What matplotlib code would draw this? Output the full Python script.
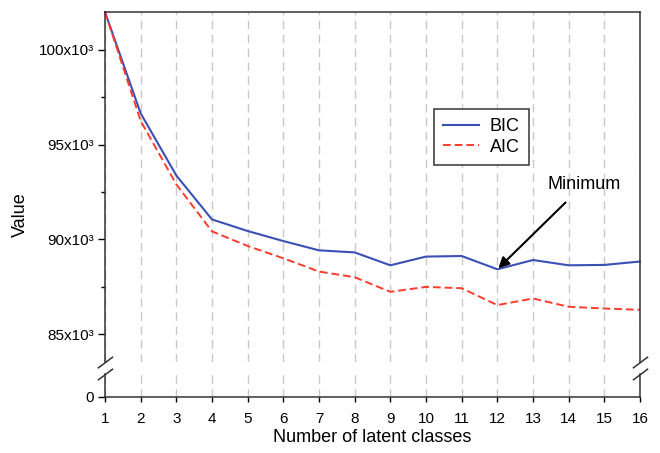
import numpy as np
import matplotlib
matplotlib.use("Agg")
from matplotlib import pyplot as plt

plt.rcParams['font.family'] = ['Liberation Sans', 'DejaVu Sans']

classes = list(range(1, 17))
bic = [102000, 96650, 93370, 91050, 90440, 89910, 89420, 89310,
       88630, 89090, 89120, 88420, 88910, 88630, 88650, 88830]
aic = [102000, 96250, 92900, 90420, 89650, 89000, 88300, 88000,
       87230, 87490, 87420, 86530, 86880, 86440, 86350, 86280]
ytick_vals = [85000, 90000, 95000, 100000]
ytick_labels = ['85x10³', '90x10³', '95x10³', '100x10³']

fig = plt.figure(figsize=(6.6, 4.53), dpi=100)
# top part (broken axis) and bottom stub with the zero
ax = fig.add_axes([105/660, 1-362/453, 535/660, 350/453])
ax0 = fig.add_axes([105/660, 1-397/453, 535/660, 23/453], sharex=ax)

ax.plot(classes, bic, color='#3b50b4', lw=1.5, label='BIC', clip_on=False)
ax.plot(classes, aic, color='#ff3b2e', lw=1.4, ls=(0, (4, 2)), label='AIC', clip_on=False)

ax.set_ylim(83526, 102000)
ax.set_xlim(1, 16)
ax.set_yticks(ytick_vals)
ax.set_yticklabels(ytick_labels)
ax.set_yticks([87500, 92500, 97500], minor=True)
ax.spines['bottom'].set_visible(False)
ax.tick_params(axis='x', bottom=False, labelbottom=False)
ax.tick_params(axis='y', which='major', length=5, width=1, labelsize=11, pad=3)
ax.tick_params(axis='y', which='minor', length=3, width=1)

ax0.set_ylim(0, 1)
ax0.set_yticks([0])
ax0.set_yticklabels(['0'])
ax0.spines['top'].set_visible(False)
ax0.set_xticks(classes)
ax0.tick_params(axis='y', length=5, width=1, labelsize=11, pad=3)
ax0.tick_params(axis='x', length=3.6, width=1, labelsize=11, pad=7)

for a in (ax, ax0):
    a.grid(axis='x', color='#c8c8c8', ls=(0, (6, 4)), lw=1)
    a.set_axisbelow(True)
    for s in a.spines.values():
        s.set_color('#333333')
        s.set_linewidth(1.1)

# break marks on both side spines
kw = dict(marker=[(-1, -0.75), (1, 0.75)], markersize=11, linestyle='none',
          color='#333333', mec='#333333', mew=1.1, clip_on=False)
ax.plot([0, 1], [0, 0], transform=ax.transAxes, **kw)
ax0.plot([0, 1], [1, 1], transform=ax0.transAxes, **kw)

ax.legend(loc='upper left', bbox_to_anchor=(329/535, 1-(109-12)/350),
          fontsize=13, frameon=True, fancybox=False, edgecolor='#333333',
          framealpha=1, handlelength=2.0, handletextpad=0.6,
          borderpad=0.5, labelspacing=0.2, borderaxespad=0)
ax.get_legend().get_frame().set_linewidth(1.1)

ax.annotate('Minimum', xy=(12, 88420), xytext=(14.43, 92900),
            fontsize=13, ha='center', va='center',
            arrowprops=dict(arrowstyle='-|>', color='black', lw=1.5,
                            mutation_scale=16, shrinkA=7, shrinkB=1))

fig.text(20/660, 1-215/453, 'Value', rotation=90, ha='center', va='center', fontsize=13)
fig.text(372/660, 1-438/453, 'Number of latent classes', ha='center', va='center', fontsize=13)

fig.savefig('out.png', dpi=100)
